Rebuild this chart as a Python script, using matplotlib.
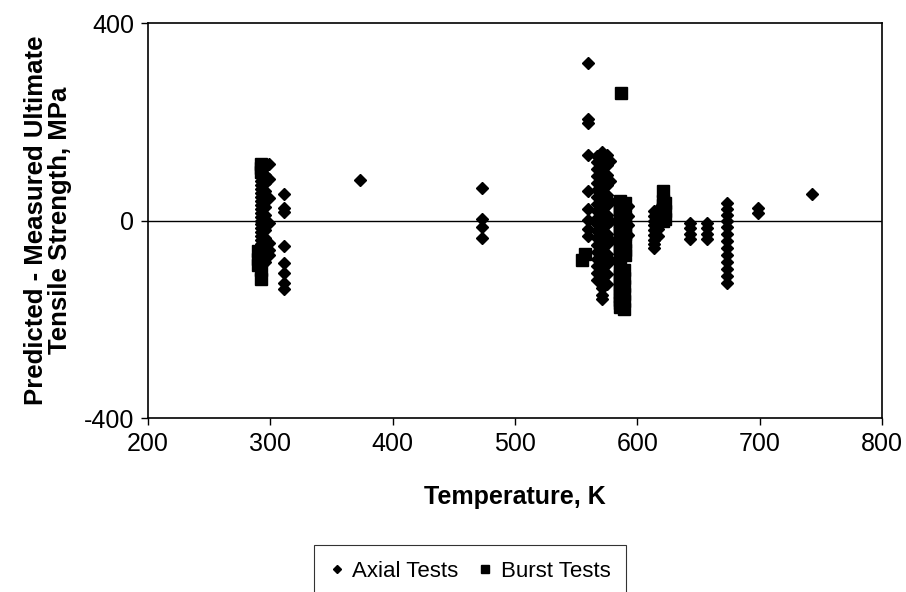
import matplotlib
matplotlib.use("Agg")
import matplotlib.pyplot as plt
from matplotlib.lines import Line2D

plt.rcParams['font.family'] = ['Liberation Sans', 'DejaVu Sans']
plt.rcParams['axes.unicode_minus'] = False

# temperatures (K) and Predicted - Measured UTS (MPa)
axial_temp = [292, 296, 299, 311, 373, 473, 560, 567, 571, 575, 578, 592,
              614, 617, 643, 657, 673, 699, 743]
axial_vals = [
    [112, 104, 96, 88, 80, 72, 64, 56, 48, 40, 32, 24, 16, 8, 0, -8, -16,
     -24, -32, -40, -48, -56, -64, -72, -80],
    [108, 92, 76, 60, 44, 28, 12, -4, -20, -36, -52, -68, -84],
    [114, 85, 45, -5, -45, -60, -70],
    [54, 26, 18, -52, -86, -106, -126, -138],
    [82],
    [66, 4, -14, -36],
    [320, 206, 198, 132, 60, 24, 2, -18, -32],
    [130, 118, 104, 90, 76, 62, 48, 34, 20, 6, -8, -22, -36, -50, -64, -78,
     -92, -106, -120],
    [138, 126, 114, 100, 88, 74, 60, 46, 32, 18, 4, -10, -24, -38, -52, -66,
     -80, -94, -108, -122, -136, -150, -158],
    [132, 112, 92, 72, 52, 32, 12, -8, -28, -48, -68, -88, -108, -128],
    [120, 80, 40, 0, -40, -80],
    [30, 10, -10, -30],
    [20, 10, 0, -10, -20, -30, -40, -48, -56],
    [24, 12, -4, -18, -32],
    [-6, -16, -28, -38],
    [-6, -16, -28, -38],
    [36, 24, 12, 0, -14, -28, -42, -56, -70, -84, -98, -112, -126],
    [26, 16],
    [54],
]

burst_temp = [290, 292, 555, 557, 586, 587, 589, 590, 621, 623]
burst_vals = [
    [-62, -78, -90],
    [115, 106, 98, -100, -118],
    [-80],
    [-68],
    [40, 32, 24, 16, 8, 0, -8, -16, -24, -32, -40, -48, -56, -64, -72,
     -96, -104, -112, -120, -128, -136, -144, -152, -160, -168, -176],
    [258],
    [-100, -116, -132, -148, -164, -180],
    [36, 20, 4, -12, -28, -44, -60, -70],
    [60, 40, 32, 24, 16, 8, 0],
    [36, 20, 4],
]

ax_x, ax_y = [], []
for t, vals in zip(axial_temp, axial_vals):
    ax_x += [t] * len(vals)
    ax_y += vals
bu_x, bu_y = [], []
for t, vals in zip(burst_temp, burst_vals):
    bu_x += [t] * len(vals)
    bu_y += vals

fig = plt.figure(figsize=(9.06, 5.92), dpi=100)
ax = fig.add_axes([0.1634, 0.2939, 0.8101, 0.6672])

ax.axhline(0, color='black', lw=1.0, zorder=1)
ax.plot(ax_x, ax_y, 'D', ms=6.6, color='black', mec='black', zorder=3)
ax.plot(bu_x, bu_y, 's', ms=8.2, color='black', mec='black', zorder=3)

ax.set_xlim(200, 800)
ax.set_ylim(-400, 400)
ax.set_xticks([200, 300, 400, 500, 600, 700, 800])
ax.set_yticks([-400, 0, 400])
ax.tick_params(direction='out', length=5, width=1, labelsize=18, pad=5)
for s in ax.spines.values():
    s.set_linewidth(1.2)

ax.set_xlabel("Temperature, K", fontsize=18, fontweight='bold', va='center')
ax.xaxis.set_label_coords(0.5, -0.199)
ax.set_ylabel("Predicted - Measured Ultimate\nTensile Strength, MPa",
              fontsize=18.5, fontweight='bold', va='center', linespacing=1.0)
ax.yaxis.set_label_coords(-0.136, 0.5)

handles = [Line2D([], [], ls='none', marker='D', ms=4.4, color='black'),
           Line2D([], [], ls='none', marker='s', ms=6.2, color='black')]
leg = fig.legend(handles, ["Axial Tests", "Burst Tests"], loc='center',
                 bbox_to_anchor=(0.519, 0.035), ncol=2, frameon=True,
                 fancybox=False, edgecolor='black', fontsize=16,
                 handlelength=0.6, handletextpad=0.4, columnspacing=0.9,
                 borderpad=0.7)
leg.get_frame().set_linewidth(0.8)

fig.savefig("out.png", dpi=100)
